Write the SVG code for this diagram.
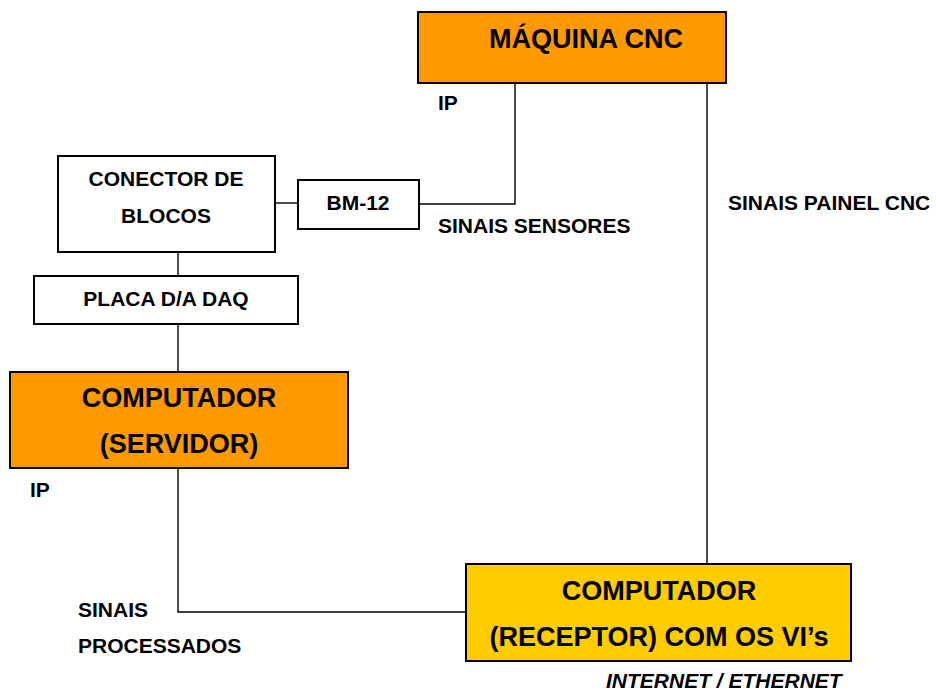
<svg xmlns="http://www.w3.org/2000/svg" width="936" height="697" viewBox="0 0 936 697">
  <style>
    .box { stroke: #000; stroke-width: 2; }
    .white { fill: #fff; }
    .orange { fill: #ff9900; }
    .yellow { fill: #ffcc00; }
    .wire { fill: none; stroke: #000; stroke-width: 1.4; }
    text { font-family: "Liberation Sans", Arial, sans-serif; font-weight: bold; fill: #000; }
    .big { font-size: 27px; }
    .small { font-size: 21px; }
    .mid { text-anchor: middle; }
  </style>
  <rect width="936" height="697" fill="#fff"/>

  <!-- connectors -->
  <g id="connectors">
    <polyline class="wire" points="515,83 515,204 419,204"/>
    <line class="wire" x1="275" y1="203" x2="298" y2="203"/>
    <line class="wire" x1="707" y1="83" x2="707" y2="564"/>
    <line class="wire" x1="178" y1="252" x2="178" y2="276"/>
    <line class="wire" x1="178" y1="324" x2="178" y2="372"/>
    <polyline class="wire" points="178,468 178,612 466,612"/>
  </g>

  <!-- CNC machine -->
  <g id="maquina-cnc">
    <rect class="box orange" x="418" y="12" width="308" height="71"/>
    <text class="big" x="489" y="48">MÁQUINA CNC</text>
  </g>

  <!-- block connector -->
  <g id="conector-blocos">
    <rect class="box white" x="58" y="156" width="217" height="96"/>
    <text class="small mid" x="166" y="186">CONECTOR DE</text>
    <text class="small mid" x="166" y="223">BLOCOS</text>
  </g>

  <!-- BM-12 -->
  <g id="bm12">
    <rect class="box white" x="298" y="180" width="121" height="49"/>
    <text class="small mid" x="358" y="210">BM-12</text>
  </g>

  <!-- DAQ board -->
  <g id="placa-daq">
    <rect class="box white" x="34" y="276" width="264" height="48"/>
    <text class="small mid" x="166" y="306">PLACA D/A DAQ</text>
  </g>

  <!-- server computer -->
  <g id="servidor">
    <rect class="box orange" x="10" y="372" width="338" height="96"/>
    <text class="big mid" x="179" y="407">COMPUTADOR</text>
    <text class="big mid" x="179" y="453">(SERVIDOR)</text>
  </g>

  <!-- receiver computer -->
  <g id="receptor">
    <rect class="box yellow" x="466" y="564" width="385" height="97"/>
    <text class="big mid" x="659" y="600">COMPUTADOR</text>
    <text class="big mid" x="659" y="646">(RECEPTOR) COM OS VI’s</text>
  </g>

  <!-- labels -->
  <g id="labels">
    <text class="small" x="438" y="110">IP</text>
    <text class="small" x="438" y="233">SINAIS SENSORES</text>
    <text class="small" x="728" y="210">SINAIS PAINEL CNC</text>
    <text class="small" x="30" y="497">IP</text>
    <text class="small" x="78" y="617">SINAIS</text>
    <text class="small" x="78" y="653">PROCESSADOS</text>
    <text class="small" x="606" y="688" font-style="italic" font-size="21.5">INTERNET / ETHERNET</text>
  </g>
</svg>
